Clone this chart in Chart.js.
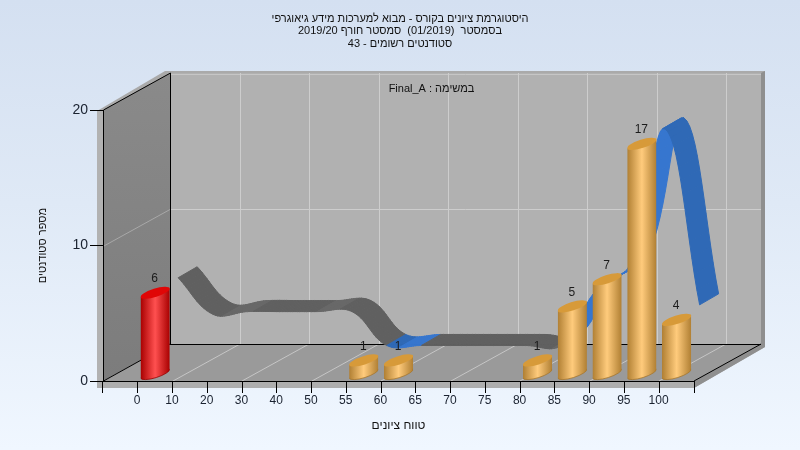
<!DOCTYPE html>
<html dir="rtl">
<head>
<meta charset="utf-8">
<style>
html,body{margin:0;padding:0;width:800px;height:450px;overflow:hidden;background:linear-gradient(180deg,#d4e0f1 0%,#dfe9f6 45%,#f0f7ff 100%);}
canvas{display:block;direction:rtl;}
</style>
<script src="https://cdn.jsdelivr.net/npm/chart.js@4"></script>
</head>
<body>
<canvas id="c" width="800" height="450"></canvas>
<script>
const titleLines = [
  "היסטוגרמת ציונים בקורס - מבוא למערכות מידע גיאוגרפי",
  "בסמסטר  (01/2019)  סמסטר חורף 2019/20",
  "סטודנטים רשומים - 43"
];
const taskLabel = "במשימה : Final_A";
const xTitle = "טווח ציונים";
const yTitle = "מספר סטודנטים";
const categories = ["","0","10","20","30","40","50","55","60","65","70","75","80","85","90","95","100"];
const barValues = [null,6,null,null,null,null,null,1,1,null,null,null,1,5,7,17,4];
const curveValues = [null,6,3.3,3.5,3.5,3.5,3.5,1,1,1,1,1,1,5,7,17,4];
const barStyles = [null,"red",null,null,null,null,null,"gold","gold",null,null,null,"gold","gold","gold","gold","gold"];
const curveStyles = [null,"grey","grey","grey","grey","grey","grey","blue","grey","grey","grey","grey","blue","blue","blue","blue",null];

const palette = {
  red:{edge:"#a80000",mid:"#ff5050",cap:"#e00606",line:"#990000"},
  gold:{edge:"#b07f33",mid:"#ffcb7c",cap:"#d79a39",line:"#a8772c"}
};
const ribbon = {grey:{up:"#686868",down:"#606060"},blue:{up:"#3676cf",down:"#2f69b6"}};
const DEPTH = {x:67,y:-37}, BAR_LIFT = -7, CURVE_SHIFT = {x:23,y:-22}, RIBBON = {x:19,y:-11};

function poly(ctx,pts,fill){ctx.beginPath();pts.forEach((p,i)=>i?ctx.lineTo(p[0],p[1]):ctx.moveTo(p[0],p[1]));ctx.closePath();ctx.fillStyle=fill;ctx.fill();}
function seg(ctx,a,b,c,w){ctx.beginPath();ctx.moveTo(a[0],a[1]);ctx.lineTo(b[0],b[1]);ctx.strokeStyle=c;ctx.lineWidth=w||1;ctx.stroke();}

const scene = {
  id:"scene",
  beforeDraw(chart){
    const ctx=chart.ctx,a=chart.chartArea,xs=chart.scales.x,ys=chart.scales.y;
    const L=Math.round(a.left),R=Math.round(a.right),T=Math.round(a.top),B=Math.round(a.bottom);
    const dx=DEPTH.x,dy=DEPTH.y;
    ctx.save();
    poly(ctx,[[L+dx-5,T+dy-2],[R+dx+4,T+dy-2],[R+dx+4,B+dy+3],[R,B+7],[L-6,B+7],[L-6,T+1]],"#aaaaaa");
    poly(ctx,[[R+dx,T+dy],[R+dx+4,T+dy-2],[R+dx+4,B+dy+3],[R,B+7],[R,B],[R+dx,B+dy]],"#8f8f8f");
    poly(ctx,[[L-6,B],[R,B],[R,B+7],[L-6,B+7]],"#aeaeae");
    poly(ctx,[[L-6,T+1],[L,T],[L,B],[L-6,B]],"#b2b2b2");
    poly(ctx,[[L+dx,T+dy],[R+dx,T+dy],[R+dx,B+dy],[L+dx,B+dy]],"#b1b1b1");
    seg(ctx,[L+dx,T+dy+1.5],[R+dx,T+dy+1.5],"#c6c6c6");
    const g=ctx.createLinearGradient(0,T+dy,0,B);g.addColorStop(0,"#8a8a8a");g.addColorStop(1,"#7c7c7c");
    poly(ctx,[[L,T],[L+dx,T+dy],[L+dx,B+dy],[L,B]],g);
    poly(ctx,[[L,B],[L+dx,B+dy],[R+dx,B+dy],[R,B]],"#9a9a9a");
    const mid=Math.round(ys.getPixelForValue(10));
    seg(ctx,[L+dx,mid+dy+.5],[R+dx,mid+dy+.5],"#cdcdcd");
    seg(ctx,[L,mid+.5],[L+dx,mid+dy+.5],"#a8a8a8");
    const slot=(a.right-a.left)/categories.length;
    for(let i=2;i<categories.length;i+=2){
      const x=Math.round(xs.getPixelForValue(i)-slot/2);
      seg(ctx,[x+dx+.5,T+dy],[x+dx+.5,B+dy],"#cdcdcd");
      seg(ctx,[x,B],[x+dx,B+dy],"#c6c6c6");
    }
    [[[L+.5,T],[L+dx+.5,T+dy]],[[L+dx+.5,T+dy],[L+dx+.5,B+dy]],[[L+.5,B],[L+dx,B+dy]],[[L+dx,B+dy+.5],[R+dx,B+dy+.5]],[[R,B],[R+dx,B+dy]]]
      .forEach(s=>seg(ctx,s[0],s[1],"#000"));
    ctx.restore();
  },
  beforeDatasetsDraw(chart){
    const ctx=chart.ctx,meta=chart.getDatasetMeta(1),line=meta.dataset,pts=meta.data;
    line.updateControlPoints(chart.chartArea,"x");
    ctx.save();
    for(let i=1;i<pts.length-1;i++){
      const p=pts[i],q=pts[i+1],style=curveStyles[i];
      const fx=t=>{const u=1-t;return u*u*u*p.x+3*u*u*t*p.cp2x+3*u*t*t*q.cp1x+t*t*t*q.x+CURVE_SHIFT.x;};
      const fy=t=>{const u=1-t;return u*u*u*p.y+3*u*u*t*p.cp2y+3*u*t*t*q.cp1y+t*t*t*q.y+CURVE_SHIFT.y;};
      const steps=14;
      for(let k=0;k<steps;k++){
        const x0=fx(k/steps),y0=fy(k/steps),x1=fx((k+1)/steps),y1=fy((k+1)/steps);
        const col=ribbon[style][(y1-y0)<-0.05?"up":"down"];
        poly(ctx,[[x0,y0],[x1,y1],[x1+RIBBON.x,y1+RIBBON.y],[x0+RIBBON.x,y0+RIBBON.y]],col);
        ctx.strokeStyle=col;ctx.lineWidth=1;ctx.lineJoin="round";ctx.stroke();
      }
    }
    ctx.restore();
  },
  afterDatasetsDraw(chart){
    const ctx=chart.ctx,meta=chart.getDatasetMeta(0);
    ctx.save();
    meta.data.forEach((b,i)=>{
      if(barValues[i]===null)return;
      const c=palette[barStyles[i]];
      const cx=b.x,w=b.width,hw=w/2,ty=b.y+BAR_LIFT,by=b.base+BAR_LIFT,sl=4.6;
      const rx=Math.hypot(hw,sl),ry=4.2,rot=-Math.atan2(sl,hw);
      const g=ctx.createLinearGradient(cx-hw,0,cx+hw,0);
      g.addColorStop(0,c.edge);g.addColorStop(.5,c.mid);g.addColorStop(1,c.edge);
      ctx.save();
      ctx.beginPath();ctx.rect(cx-hw,ty-14,w,by-ty+28);ctx.clip();
      ctx.beginPath();
      ctx.moveTo(cx-hw,ty+sl);ctx.lineTo(cx+hw,ty-sl);ctx.lineTo(cx+hw,by-sl);
      ctx.ellipse(cx,by,rx,ry,rot,0,Math.PI);
      ctx.closePath();ctx.fillStyle=g;ctx.fill();
      ctx.strokeStyle=c.line;ctx.lineWidth=.8;
      ctx.beginPath();ctx.ellipse(cx,by,rx,ry,rot,0,Math.PI);ctx.stroke();
      ctx.beginPath();ctx.ellipse(cx,ty,rx,ry,rot,0,Math.PI*2);ctx.fillStyle=c.cap;ctx.fill();
      ctx.restore();
      ctx.fillStyle="#1c1c1c";ctx.font="12px 'Liberation Sans'";ctx.textAlign="center";ctx.textBaseline="middle";
      ctx.fillText(String(barValues[i]),cx-.5,ty-14);
    });
    ctx.fillStyle="#111";ctx.font="11px 'Liberation Sans'";ctx.textAlign="center";ctx.textBaseline="middle";
    ctx.direction="rtl";
    ctx.fillText(taskLabel,431.5,88.5);
    ctx.restore();
  }
};

new Chart(document.getElementById("c"),{
  data:{
    labels:categories,
    datasets:[
      {type:"bar",data:barValues,backgroundColor:"transparent",borderWidth:0,barPercentage:.84,categoryPercentage:1,order:1},
      {type:"line",data:curveValues,borderColor:"transparent",borderWidth:0,pointRadius:0,tension:.39,capBezierPoints:false,order:2}
    ]
  },
  plugins:[scene],
  options:{
    responsive:false,animation:false,devicePixelRatio:1,
    layout:{padding:0},
    plugins:{
      legend:{display:false},tooltip:{enabled:false},
      title:{display:true,text:titleLines,color:"#111",font:{family:"'Liberation Sans'",size:11,weight:"normal",lineHeight:1.136},padding:{top:12.6,bottom:60.1}}
    },
    scales:{
      x:{
        offset:true,
        afterFit(s){s.height=69;},
        grid:{display:true,offset:true,drawOnChartArea:false,drawTicks:true,tickLength:12,color:"#000"},
        border:{display:true,color:"#000"},
        ticks:{labelOffset:-18,padding:0,autoSkip:false,maxRotation:0,color:"#1a2230",font:{family:"'Liberation Sans'",size:12}},
        title:{display:true,text:xTitle,color:"#111",font:{family:"'Liberation Sans'",size:12},padding:{top:0,bottom:17}}
      },
      y:{
        min:0,max:20,
        afterFit(s){s.width=103;},
        grid:{display:true,drawOnChartArea:false,drawTicks:true,tickLength:13,color:"#000"},
        border:{display:true,color:"#000"},
        ticks:{stepSize:10,padding:2,color:"#1a2230",font:{family:"'Liberation Sans'",size:14}},
        title:{display:true,text:yTitle,color:"#111",font:{family:"'Liberation Sans'",size:11},padding:{top:36,bottom:0}}
      },
      spacer:{
        position:"right",display:true,
        afterFit(s){s.width=106;},
        grid:{display:false},border:{display:false},ticks:{display:false}
      }
    }
  }
});
</script>
</body>
</html>
